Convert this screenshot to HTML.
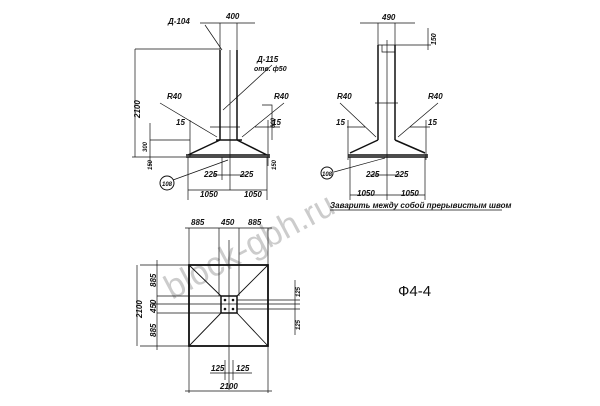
<!DOCTYPE html><html><head><style>body{margin:0;background:#fff}svg{display:block}text{font-family:"Liberation Sans",sans-serif;font-style:italic;font-weight:bold;fill:#111}</style></head><body>
<svg width="600" height="406" viewBox="0 0 600 406" stroke="#111" fill="none" stroke-width="1">
<text x="172" y="300" transform="rotate(-28 172 300)" style="font-size:34px;fill:#ccc;font-style:normal;font-weight:normal" stroke="none">block-gbh.ru</text>
<g font-size="8">
<path d="M220 50V140M237 50V140M220 140L188 155M237 140L267 155M216 140H242M186 157H270M186 155H270" stroke-width="1.5"/>
<path d="M135 49H220M132 157H188M135 49V157M200 23H255M220 23V50M237 23V50M205 25L222 50M272 65L223 110M160 103L217 137M284 103L242 137M230 50V190M188 157V200M267 157V200M188 190H267M213 175H246M222 157V180M262 105H272V140M210 127H240M255 127H280M190 120V157M268 120V157M150 140H190M150 157V166M268 157V166M173 180L228 160M150 123V157" stroke-width="0.7"/>
<circle cx="167" cy="183" r="7"/>
<g stroke="none">
<text x="168" y="24">Д-104</text><text x="226" y="19">400</text>
<text x="257" y="62">Д-115</text><text x="254" y="71" font-size="7">отв. ф50</text>
<text x="167" y="99">R40</text><text x="274" y="99">R40</text>
<text x="176" y="125">15</text><text x="272" y="125">15</text>
<text x="204" y="177">225</text><text x="240" y="177">225</text>
<text x="200" y="197">1050</text><text x="244" y="197">1050</text>
<text x="162" y="186" font-size="6">108</text>
<text transform="translate(140 118) rotate(-90)">2100</text>
<text transform="translate(147 152) rotate(-90)" font-size="6">300</text>
<text transform="translate(275 128) rotate(-90)" font-size="6">600</text>
<text transform="translate(152 170) rotate(-90)" font-size="6">150</text>
<text transform="translate(276 170) rotate(-90)" font-size="6">150</text>
</g>
<path d="M378 45V140M395 45V140M378 140L350 153M395 140L425 153M348 155H428M348 157H428" stroke-width="1.5"/>
<path d="M378 45H431M382 45V52H395M360 23H415M378 23V45M395 23V45M428 28V50M340 103L376 137M438 103L398 137M387 40V200M347 127H365M410 127H430M348 120V160M426 120V160M350 157V200M425 157V200M350 195H425M370 175H400M334 172L385 158M375 103H398" stroke-width="0.7"/>
<circle cx="327" cy="173" r="6"/>
<g stroke="none">
<text x="382" y="20">490</text>
<text transform="translate(436 45) rotate(-90)" font-size="7">150</text>
<text x="337" y="99">R40</text><text x="428" y="99">R40</text>
<text x="336" y="125">15</text><text x="428" y="125">15</text>
<text x="366" y="177">225</text><text x="395" y="177">225</text>
<text x="357" y="196">1050</text><text x="401" y="196">1050</text>
<text x="322" y="176" font-size="6">108</text>
<text x="330" y="208" font-size="8">Заварить между собой прерывистым швом</text>
</g>
<path d="M330 210H502" stroke-width="0.8"/>
<rect x="189" y="265" width="79" height="81" stroke-width="1.8"/>
<rect x="221" y="296" width="16" height="17" stroke-width="1.5"/>
<path d="M189 265L221 296M268 265L237 296M189 346L221 313M268 346L237 313" stroke-width="0.9"/>
<path d="M189 228V265M268 228V265M219 228V296M239 228V296M185 228H272M140 265H189M140 346H189M157 296H221M157 313H221M137 265V346M157 260V350M150 304H300M229 240V390M225 360V380M233 360V380M210 373H252M189 346V393M268 346V393M185 391H272M237 300H300M237 309H300M295 280V335" stroke-width="0.7"/>
<g fill="#111" stroke="none"><circle cx="225" cy="300" r="1.3"/><circle cx="233" cy="300" r="1.3"/><circle cx="225" cy="309" r="1.3"/><circle cx="233" cy="309" r="1.3"/></g>
<g stroke="none">
<text x="191" y="225">885</text><text x="221" y="225">450</text><text x="248" y="225">885</text>
<text transform="translate(142 318) rotate(-90)">2100</text>
<text transform="translate(156 287) rotate(-90)">885</text>
<text transform="translate(156 313) rotate(-90)">450</text>
<text transform="translate(156 337) rotate(-90)">885</text>
<text transform="translate(300 297) rotate(-90)" font-size="6">125</text>
<text transform="translate(300 330) rotate(-90)" font-size="6">125</text>
<text x="211" y="371">125</text><text x="236" y="371">125</text>
<text x="220" y="389">2100</text>
</g>
<text x="398" y="296" stroke="none" style="font-size:15px;font-style:normal;font-weight:normal">Ф4-4</text>
</g>
</svg></body></html>
